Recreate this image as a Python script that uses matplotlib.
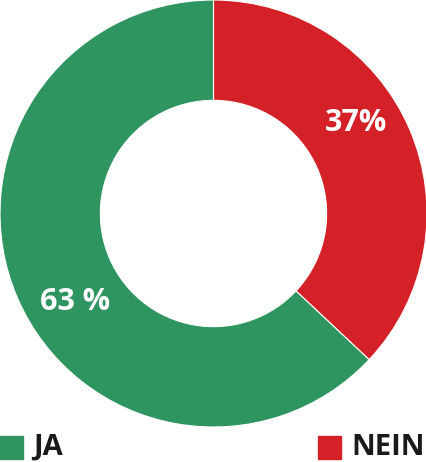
import matplotlib

matplotlib.use("Agg")
import matplotlib.pyplot as plt
from matplotlib.patches import Rectangle

plt.rcParams["font.family"] = ["Open Sans", "DejaVu Sans"]

# data
labels = ["NEIN", "JA"]
values = [37, 63]
pct_text = ["37%", "63 %"]
colors = ["#d42027", "#2e9460"]

W, H, DPI = 427, 462, 100
fig = plt.figure(figsize=(W / DPI, H / DPI), dpi=DPI)

# donut occupies the top 426x426 px
ax = fig.add_axes([0, 1 - 427 / H, 427 / W, 427 / H])
wedges, _ = ax.pie(values, colors=colors, startangle=90, counterclock=False,
                   radius=1.0, wedgeprops=dict(width=0.47, edgecolor="white", linewidth=0.8))
ax.set_aspect("equal")
ax.set_xlim(-1.0, 1.0)
ax.set_ylim(-1.0, 1.0)
ax.axis("off")

# percentage labels
label_pos = [(0.667, 0.425), (-0.648, -0.415)]
for (x, y), t in zip(label_pos, pct_text):
    ax.text(x, y, t, ha="center", va="center", color="white",
            fontsize=22, fontweight="bold")

# legend: JA left, NEIN right
legend_items = [("JA", colors[1], 0, 33), ("NEIN", colors[0], 318, 351)]
for name, col, x0, tx in legend_items:
    fig.patches.append(Rectangle((x0 / W, 1 - 459 / H), 23 / W, 23 / H,
                                 transform=fig.transFigure, color=col))
    fig.text(tx / W, 1 - 455 / H, name, ha="left", va="baseline",
             fontsize=21, fontweight="bold", color="#1a1a1a")

fig.savefig("out.png", dpi=DPI)
